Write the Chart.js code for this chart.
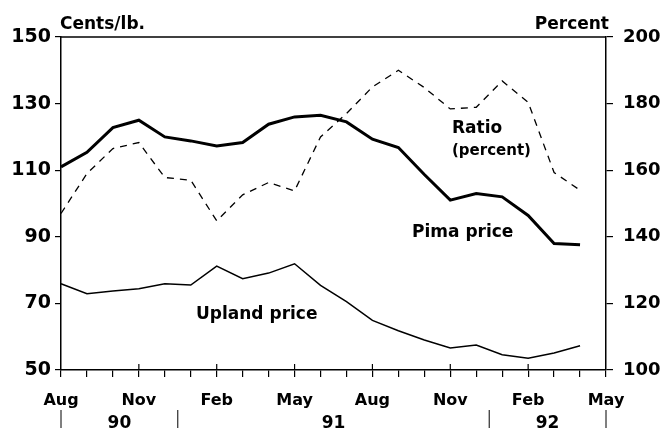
<!DOCTYPE html>
<html>
<head>
<meta charset="utf-8">
<script src="https://cdn.jsdelivr.net/npm/chart.js@4/dist/chart.umd.min.js"></script>
<style>
  html, body { margin: 0; padding: 0; background: #fff; }
  #wrap { width: 660px; height: 428px; position: relative; }
</style>
</head>
<body>
<div id="wrap"><canvas id="chart"></canvas></div>
<script>
// Months Aug 1990 - May 1992
const months = ['Aug', 'Sep', 'Oct', 'Nov', 'Dec', 'Jan', 'Feb', 'Mar', 'Apr', 'May', 'Jun', 'Jul',
                'Aug', 'Sep', 'Oct', 'Nov', 'Dec', 'Jan', 'Feb', 'Mar', 'Apr', 'May'];
const years = [
    { label: '90', from: 0, to: 4.5 },
    { label: '91', from: 4.5, to: 16.5 },
    { label: '92', from: 16.5, to: 21 }
];

// cents per lb (left axis)
const pimaPrice = [111, 115.4, 122.8, 125, 120, 118.8, 117.3, 118.3, 123.8, 126, 126.5, 124.5,
                   119.3, 116.8, 108.7, 101, 103, 102, 96.4, 88, 87.6];
const uplandPrice = [75.9, 72.9, 73.7, 74.4, 75.9, 75.5, 81.2, 77.4, 79.1, 81.9, 75.4, 70.5,
                     64.9, 61.8, 59, 56.6, 57.5, 54.6, 53.5, 55.1, 57.3];
// percent (right axis)
const ratio = [147, 159, 166.5, 168.3, 157.8, 157, 144.8, 152.6, 156.3, 153.8, 170, 177,
               185, 190, 184.8, 178.4, 178.9, 186.8, 180.4, 159.3, 154];

const font = '"DejaVu Sans", "Liberation Sans", Arial, sans-serif';

const extras = {
    id: 'extras',
    afterDraw(chart) {
        const c = chart.ctx;
        const a = chart.chartArea;
        const x = chart.scales.x;
        c.save();
        c.strokeStyle = '#000';
        c.lineWidth = 1.5;
        c.beginPath();
        c.moveTo(a.left, a.top);
        c.lineTo(a.right, a.top);
        c.stroke();

        // quarterly ticks reaching up into plot
        c.lineWidth = 1.2;
        for (let i = 3; i < months.length - 1; i += 3) {
            const px = x.getPixelForValue(i);
            c.beginPath();
            c.moveTo(px, a.bottom);
            c.lineTo(px, a.bottom - 6);
            c.stroke();
        }

        // year row
        c.fillStyle = '#000';
        c.font = 'bold 17px ' + font;
        c.textAlign = 'center';
        c.textBaseline = 'middle';
        c.lineWidth = 1;
        years.forEach(y => {
            const x0 = x.getPixelForValue(y.from);
            const x1 = x.getPixelForValue(y.to);
            c.fillText(y.label, (x0 + x1) / 2, 424);
        });
        const seps = [0, 4.5, 16.5, 21];
        seps.forEach(v => {
            const px = x.getPixelForValue(v);
            c.beginPath();
            c.moveTo(px, 410);
            c.lineTo(px, 428);
            c.stroke();
        });

        // axis titles
        c.font = 'bold 17px ' + font;
        c.textBaseline = 'alphabetic';
        c.textAlign = 'left';
        c.fillText('Cents/lb.', 60, 29);
        c.textAlign = 'right';
        c.fillText('Percent', 609, 29);

        // series labels
        c.textAlign = 'left';
        c.font = 'bold 17px ' + font;
        c.fillText('Ratio', 452, 133);
        c.fillText('Pima price', 412, 237);
        c.fillText('Upland price', 196, 319);
        c.font = 'bold 15px ' + font;
        c.fillText('(percent)', 452, 155);
        c.restore();
    }
};

const ctx = document.getElementById('chart').getContext('2d');

const chart = new Chart(ctx, {
    type: 'line',
    data: {
        labels: months,
        datasets: [{
            label: 'Pima price',
            data: pimaPrice,
            yAxisID: 'y',
            borderColor: '#000',
            borderWidth: 3,
            pointRadius: 0,
            tension: 0
        }, {
            label: 'Upland price',
            data: uplandPrice,
            yAxisID: 'y',
            borderColor: '#000',
            borderWidth: 1.5,
            pointRadius: 0,
            tension: 0
        }, {
            label: 'Ratio',
            data: ratio,
            yAxisID: 'y1',
            borderColor: '#000',
            borderWidth: 1.3,
            borderDash: [7, 6],
            pointRadius: 0,
            tension: 0
        }]
    },
    options: {
        responsive: true,
        maintainAspectRatio: false,
        animation: false,
        layout: {
            padding: { top: 37, left: 0, right: 0, bottom: 0 }
        },
        plugins: {
            legend: { display: false },
            tooltip: { enabled: false }
        },
        scales: {
            x: {
                type: 'category',
                offset: false,
                afterFit: s => { s.height = 58; },
                border: { color: '#000', width: 1.5 },
                grid: {
                    drawOnChartArea: false,
                    tickLength: 7,
                    color: '#000',
                    lineWidth: 1.2
                },
                ticks: {
                    autoSkip: false,
                    maxRotation: 0,
                    padding: 14,
                    color: '#000',
                    font: { family: font, size: 16, weight: 'bold' },
                    callback: (v, i) => (i % 3 === 0 ? months[i] : '')
                }
            },
            y: {
                position: 'left',
                min: 50,
                max: 150,
                afterFit: s => { s.width = 61; },
                border: { color: '#000', width: 1.5 },
                grid: {
                    drawOnChartArea: false,
                    tickLength: 6,
                    color: '#000',
                    lineWidth: 1.2
                },
                ticks: {
                    stepSize: 20,
                    padding: 4,
                    color: '#000',
                    font: { family: font, size: 19, weight: 'bold' }
                }
            },
            y1: {
                position: 'right',
                min: 100,
                max: 200,
                afterFit: s => { s.width = 54; },
                border: { color: '#000', width: 1.5 },
                grid: {
                    drawOnChartArea: false,
                    tickLength: 7,
                    color: '#000',
                    lineWidth: 1.2
                },
                ticks: {
                    stepSize: 20,
                    padding: 10,
                    color: '#000',
                    font: { family: font, size: 18, weight: 'bold' }
                }
            }
        }
    },
    plugins: [extras]
});
</script>
</body>
</html>
